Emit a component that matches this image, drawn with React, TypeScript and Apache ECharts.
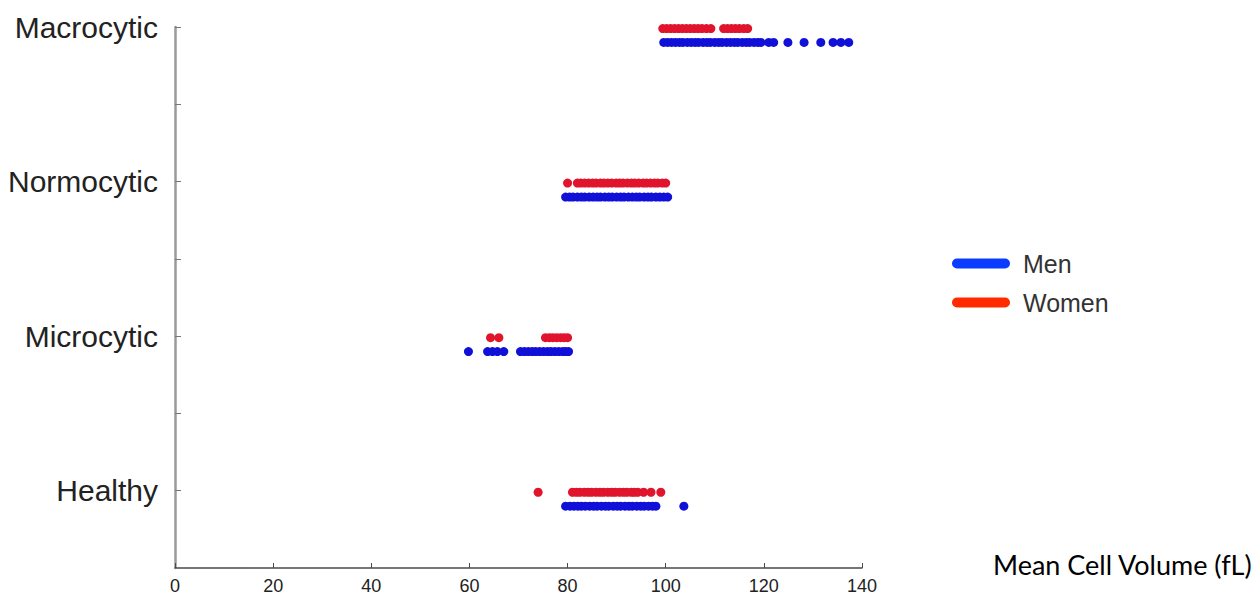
import React, { useEffect, useRef } from "react";
import * as echarts from "echarts";

const categories = ["Healthy", "Microcytic", "Normocytic", "Macrocytic"];
const xTicks = [0, 20, 40, 60, 80, 100, 120, 140];
const xTitle = "Mean Cell Volume (fL)";

// Mean cell volume readings (fL) per group
const menHealthy = [79.6, 80.5, 81.3, 82.1, 82.8, 83.6, 84.5, 85.3, 86.0, 86.9, 87.7, 88.4, 89.3, 90.1, 90.8, 91.7, 92.5, 93.2, 94.1, 94.9, 95.6, 96.5, 97.3, 98.0, 103.7];
const womenHealthy = [74.0, 81.0, 81.8, 82.5, 83.4, 84.2, 84.9, 85.8, 86.6, 87.3, 88.2, 89.0, 89.7, 90.6, 91.4, 92.1, 93.0, 93.6, 94.3, 95.5, 97.0, 99.0];
const menMicro = [59.8, 63.7, 64.7, 65.7, 67.0, 70.4, 71.2, 72.0, 72.8, 73.5, 74.3, 75.1, 75.9, 76.6, 77.4, 78.2, 79.0, 79.6, 80.2];
const womenMicro = [64.3, 66.0, 75.5, 76.3, 77.0, 77.8, 78.6, 79.3, 80.0];
const menNormo = [79.6, 80.4, 81.1, 82.0, 82.8, 83.5, 84.4, 85.2, 86.0, 86.7, 87.6, 88.4, 89.1, 90.0, 90.8, 91.5, 92.4, 93.2, 94.0, 94.7, 95.6, 96.4, 97.1, 98.0, 98.8, 99.6, 100.4];
const womenNormo = [80.0, 82.0, 82.7, 83.5, 84.3, 85.1, 85.8, 86.7, 87.4, 88.2, 89.0, 89.9, 90.6, 91.3, 92.2, 93.0, 93.7, 94.5, 95.4, 96.1, 96.9, 97.7, 98.4, 99.3, 100.0];
const menMacro = [99.6, 100.4, 101.2, 102.0, 102.8, 103.5, 104.4, 105.2, 106.0, 106.7, 107.6, 108.4, 109.1, 110.0, 110.8, 111.5, 112.4, 113.2, 114.0, 114.7, 115.6, 116.4, 117.1, 118.0, 118.8, 119.4, 121.0, 122.0, 124.9, 128.2, 131.6, 134.1, 135.7, 137.3];
const womenMacro = [99.4, 100.2, 101.0, 101.8, 102.6, 103.4, 104.2, 105.0, 105.8, 106.6, 107.4, 108.3, 109.2, 111.8, 112.6, 113.4, 114.2, 115.0, 115.9, 116.7];

const menGroups = [menHealthy, menMicro, menNormo, menMacro];
const womenGroups = [womenHealthy, womenMicro, womenNormo, womenMacro];

const MEN_OFFSET = -0.1;
const WOMEN_OFFSET = -0.01;

function toPoints(groups: number[][], offset: number) {
  const pts: number[][] = [];
  groups.forEach((vals, i) => {
    vals.forEach((v) => pts.push([v, i + offset]));
  });
  return pts;
}

export default function App() {
  const ref = useRef<HTMLDivElement>(null);
  useEffect(() => {
    document.body.style.margin = "0";
    if (!ref.current) return;
    const chart = echarts.init(ref.current, undefined, { renderer: "svg" });
    chart.setOption({
      animation: false,
      backgroundColor: "#ffffff",
      grid: { left: 175, right: 396, top: 27, bottom: 33 },
      xAxis: {
        type: "value",
        min: xTicks[0],
        max: xTicks[xTicks.length - 1],
        interval: 20,
        axisLine: { show: true, onZero: false, lineStyle: { color: "#4a4a4a", width: 1.5 } },
        axisTick: { show: true, inside: true, length: 5, lineStyle: { color: "#4a4a4a" } },
        splitLine: { show: false },
        axisLabel: {
          color: "#222",
          fontSize: 18,
          margin: 9,
          fontFamily: "'Liberation Sans Narrow', 'Liberation Sans', Arial, sans-serif",
        },
      },
      yAxis: {
        type: "value",
        min: -0.5,
        max: 3,
        interval: 0.5,
        axisLine: { show: true, lineStyle: { color: "#9a9a9a", width: 2.5 } },
        axisTick: { show: true, inside: true, length: 6, lineStyle: { color: "#777" } },
        splitLine: { show: false },
        axisLabel: {
          color: "#222",
          fontSize: 30,
          margin: 17,
          fontFamily: "'Liberation Sans', Arial, sans-serif",
          formatter: (v: number) =>
            Number.isInteger(v) && v >= 0 && v < categories.length ? categories[v] : "",
        },
      },
      legend: {
        orient: "vertical",
        left: 947,
        top: 246,
        itemWidth: 58,
        itemHeight: 10,
        itemGap: 14,
        icon: "path://M5,0 L53,0 A5,5 0 0 1 53,10 L5,10 A5,5 0 0 1 5,0 Z",
        textStyle: {
          fontSize: 25,
          color: "#333",
          fontFamily: "'Liberation Sans', Arial, sans-serif",
          padding: [0, 0, 0, 8],
        },
        data: [
          { name: "Men", itemStyle: { color: "#0a3cff", borderWidth: 0 } },
          { name: "Women", itemStyle: { color: "#ff2a00", borderWidth: 0 } },
        ],
      },
      graphic: [
        {
          type: "text",
          left: 993,
          top: 551,
          style: {
            text: xTitle,
            fill: "#000",
            fontSize: 27,
            fontFamily: "Lato, 'Open Sans', sans-serif",
          },
        },
      ],
      series: [
        {
          name: "Men",
          type: "scatter",
          symbolSize: 9,
          itemStyle: { color: "#1010d8", borderWidth: 0, opacity: 1 },
          data: toPoints(menGroups, MEN_OFFSET),
        },
        {
          name: "Women",
          type: "scatter",
          symbolSize: 9,
          itemStyle: { color: "#e0142c", borderWidth: 0, opacity: 1 },
          data: toPoints(womenGroups, WOMEN_OFFSET),
        },
      ],
    });
    return () => chart.dispose();
  }, []);
  return <div ref={ref} style={{ width: 1258, height: 601 }} />;
}
